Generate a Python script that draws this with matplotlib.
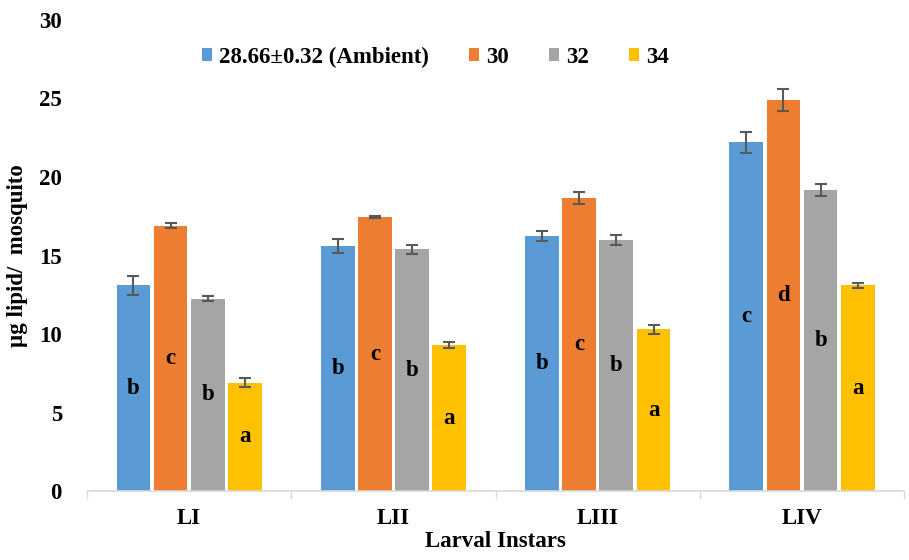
import matplotlib
matplotlib.use("Agg")
import matplotlib.pyplot as plt
import numpy as np

# data
instars = ["LI", "LII", "LIII", "LIV"]
series = ["28.66\u00b10.32 (Ambient)", "30", "32", "34"]
ambient = [13.1, 15.6, 16.25, 22.2]
t30 = [16.9, 17.45, 18.65, 24.9]
t32 = [12.25, 15.4, 16.0, 19.2]
t34 = [6.9, 9.3, 10.3, 13.1]
err_ambient = [0.6, 0.45, 0.32, 0.64]
err_30 = [0.15, 0.08, 0.4, 0.72]
err_32 = [0.15, 0.3, 0.32, 0.38]
err_34 = [0.3, 0.2, 0.29, 0.17]
letters = [["b", "b", "b", "c"],
           ["c", "c", "c", "d"],
           ["b", "b", "b", "b"],
           ["a", "a", "a", "a"]]

colors = ["#5B9BD5", "#ED7D31", "#A5A5A5", "#FFC000"]
fs = 16.5

plt.rcParams["font.family"] = ["Liberation Serif", "DejaVu Serif"]
plt.rcParams["font.weight"] = "bold"

fig = plt.figure(figsize=(9.09, 5.6), dpi=100)
ax = fig.add_axes([0.0957, 0.1232, 0.899, 0.8411])

values = [ambient, t30, t32, t34]
errors = [err_ambient, err_30, err_32, err_34]
x = np.arange(len(instars))
slot = 0.182
width = 0.165

for i, (vals, errs) in enumerate(zip(values, errors)):
    pos = x + (i - 1.5) * slot
    ax.bar(pos, vals, width, color=colors[i], label=series[i], zorder=2)
    ax.errorbar(pos, vals, yerr=errs, fmt="none", ecolor="#595959",
                elinewidth=1.5, capsize=4.5, capthick=1.5, zorder=3)
    for p, v, lab in zip(pos, vals, letters[i]):
        ax.text(p, v / 2, lab, ha="center", va="center", fontsize=fs,
                fontweight="bold", color="black", zorder=4)

ax.set_xlim(-0.5, 3.5)
ax.set_ylim(0, 30)
ax.set_yticks(np.arange(0, 31, 5))
ax.set_xticks(x)
ax.set_xticklabels(instars)
ax.set_xticks(np.arange(-0.5, 3.6, 1), minor=True)
ax.tick_params(axis="x", which="major", length=0, pad=12, labelsize=fs)
ax.tick_params(axis="x", which="minor", length=6, color="#D9D9D9", width=1)
ax.tick_params(axis="y", length=0, pad=18, labelsize=fs)

for s in ["top", "right", "left"]:
    ax.spines[s].set_visible(False)
ax.spines["bottom"].set_color("#D9D9D9")
ax.spines["bottom"].set_linewidth(1.2)

ax.set_ylabel("\u00b5g lipid/  mosquito", fontsize=fs, fontweight="bold", labelpad=8)
ax.set_xlabel("Larval Instars", fontsize=fs, fontweight="bold", labelpad=2)

fig.legend(loc="center", bbox_to_anchor=(0.479, 0.898), ncol=4, frameon=False,
           fontsize=fs, handlelength=0.45, handleheight=0.45, handletextpad=0.3,
           columnspacing=1.75)

fig.savefig("out.png", dpi=100)
